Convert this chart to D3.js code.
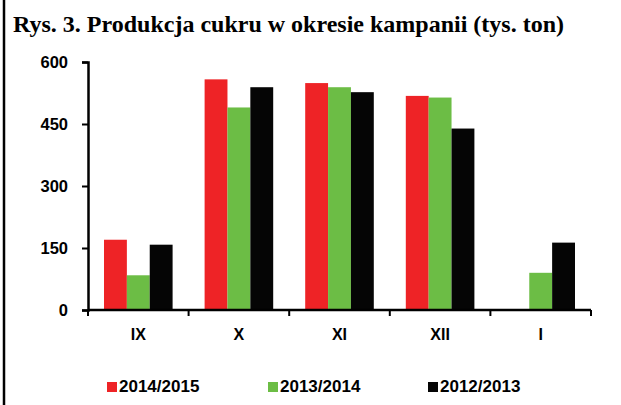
<!DOCTYPE html>
<html>
<head>
<meta charset="utf-8">
<script src="https://cdn.jsdelivr.net/npm/d3@7"></script>
<style>
  body { margin: 0; background: #fff; }
  text { font-family: "Liberation Sans", Arial, sans-serif; font-weight: bold; }
</style>
</head>
<body>
<div id="chart"></div>
<script>
let w = 621, h = 405,
	margins = {top: 62, bottom: 310, left: 88, right: 591}

let months = ["IX", "X", "XI", "XII", "I"]
let seasons = ["2014/2015", "2013/2014", "2012/2013"]
let colors = ["#ee2326", "#6cbd45", "#050505"]
let v2014 = [170, 558, 549, 518, null]
let v2013 = [84, 490, 539, 514, 90]
let v2012 = [158, 539, 527, 439, 163]
let yTicks = [0, 150, 300, 450, 600]

let series = [v2014, v2013, v2012]

let svg = d3.select("#chart").append("svg")
	.attr("width", w)
	.attr("height", h)

// left frame line
svg.append("line")
	.attr("x1", 4).attr("x2", 4)
	.attr("y1", 0).attr("y2", h)
	.attr("stroke", "#000")
	.attr("stroke-width", 2.5)

svg.append("text")
	.attr("x", 13)
	.attr("y", 32)
	.style("font-family", "'Liberation Serif', 'Times New Roman', serif")
	.style("font-size", "24px")
	.text("Rys. 3. Produkcja cukru w okresie kampanii (tys. ton)")

let x = d3.scaleBand()
	.domain(months)
	.range([margins.left, margins.right])
	.paddingInner(0)
	.paddingOuter(0)

let x1 = d3.scaleBand()
	.domain(d3.range(seasons.length))
	.range([0, x.bandwidth()])
	.paddingOuter(0.7)
	.paddingInner(0)

let y = d3.scaleLinear()
	.domain([0, 600])
	.range([margins.bottom, margins.top])

// bars
series.forEach((vals, si) => {
	svg.append("g").selectAll("rect")
		.data(vals.map((v, i) => ({m: months[i], v: v})).filter(d => d.v != null))
		.enter()
		.append("rect")
		.attr("x", d => x(d.m) + x1(si))
		.attr("y", d => y(d.v))
		.attr("width", x1.bandwidth())
		.attr("height", d => y(0) - y(d.v))
		.attr("fill", colors[si])
})

// y axis
let yAxis = d3.axisLeft(y).tickValues(yTicks).tickSize(6).tickPadding(14)
let gy = svg.append("g")
	.attr("transform", "translate(" + margins.left + ",0)")
	.call(yAxis)
gy.select(".domain").attr("stroke-width", 2.5)
gy.selectAll(".tick line").attr("stroke-width", 2)
gy.selectAll("text").style("font-size", "16.5px").attr("fill", "#000")

// x axis with ticks at band edges
let gx = svg.append("g")
	.attr("transform", "translate(0," + margins.bottom + ")")
gx.append("line")
	.attr("x1", margins.left).attr("x2", margins.right)
	.attr("stroke", "#000").attr("stroke-width", 2.5)
gx.selectAll(".edge")
	.data(months.map(m => x(m)).concat([margins.right]))
	.enter().append("line")
	.attr("x1", d => d).attr("x2", d => d)
	.attr("y1", 0).attr("y2", 6)
	.attr("stroke", "#000").attr("stroke-width", 2)
gx.selectAll(".lab")
	.data(months)
	.enter().append("text")
	.attr("x", d => x(d) + x.bandwidth() / 2)
	.attr("y", 30)
	.attr("text-anchor", "middle")
	.style("font-size", "16px")
	.text(d => d)

// legend
let legendX = [107, 268, 428]
seasons.forEach((s, i) => {
	svg.append("rect")
		.attr("x", legendX[i])
		.attr("y", 382)
		.attr("width", 10)
		.attr("height", 10)
		.attr("fill", colors[i])
	svg.append("text")
		.attr("x", legendX[i] + 12)
		.attr("y", 392)
		.style("font-size", "17px")
		.text(s)
})
</script>
</body>
</html>
